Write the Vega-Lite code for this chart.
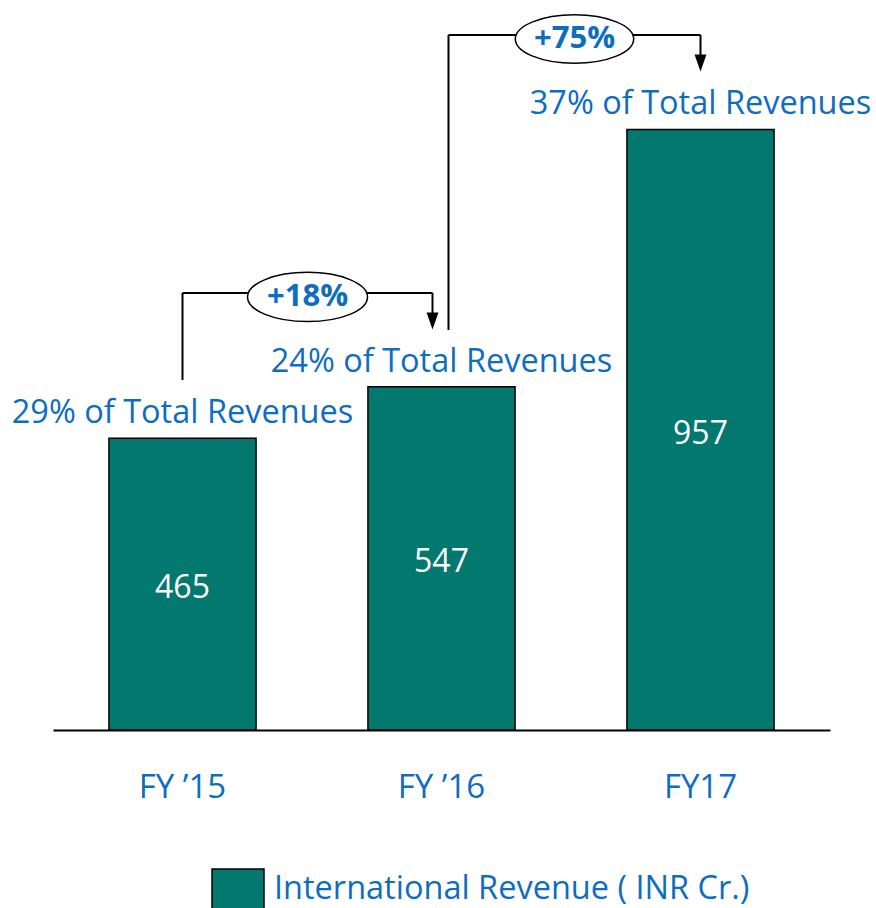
{
  "$schema": "https://vega.github.io/schema/vega-lite/v6.json",
  "width": 777,
  "height": 728,
  "autosize": {"type": "none"},
  "padding": {"left": 53, "top": 2, "right": 46, "bottom": 178},
  "background": "white",
  "config": {"view": {"stroke": null}, "font": "Open Sans"},
  "datasets": {
    "bars": [
      {"fy": "FY ’15", "revenue": 465, "share": "29% of Total Revenues", "series": "International Revenue ( INR Cr.)"},
      {"fy": "FY ’16", "revenue": 547, "share": "24% of Total Revenues", "series": "International Revenue ( INR Cr.)"},
      {"fy": "FY17", "revenue": 957, "share": "37% of Total Revenues", "series": "International Revenue ( INR Cr.)"}
    ],
    "segments": [
      {"seg": "a", "from": "FY ’15", "to": "FY ’15", "y": 557.7, "y2": 696.3},
      {"seg": "b", "from": "FY ’15", "to": "FY ’16", "y": 696.3, "y2": 696.3},
      {"seg": "c", "from": "FY ’16", "to": "FY ’16", "y": 696.3, "y2": 664.4},
      {"seg": "d", "from": "FY ’16", "to": "FY ’16", "y": 637.4, "y2": 1107.4},
      {"seg": "e", "from": "FY ’16", "to": "FY17", "y": 1107.4, "y2": 1107.4},
      {"seg": "f", "from": "FY17", "to": "FY17", "y": 1107.4, "y2": 1075.5}
    ],
    "arrows": [
      {"id": "g1", "fy": "FY ’16", "y": 651.7},
      {"id": "g2", "fy": "FY17", "y": 1062.8}
    ],
    "growth": [
      {"id": "g1", "fy": "FY ’15", "y": 690, "label": "+18%"},
      {"id": "g2", "fy": "FY ’16", "y": 1101, "label": "+75%"}
    ]
  },
  "encoding": {
    "x": {
      "field": "fy",
      "type": "nominal",
      "sort": null,
      "scale": {"domain": ["FY ’15", "FY ’16", "FY17"], "paddingInner": 0.432, "paddingOuter": 0.216},
      "axis": {
        "title": null,
        "ticks": false,
        "domainColor": "black",
        "domainWidth": 2,
        "labelAngle": 0,
        "labelFontSize": 33,
        "labelColor": "#0E6DBF",
        "labelPadding": 41,
        "labelFont": "Open Sans"
      }
    }
  },
  "layer": [
    {
      "data": {"name": "bars"},
      "mark": {"type": "bar", "stroke": "black", "strokeWidth": 1.5},
      "encoding": {
        "y": {"field": "revenue", "type": "quantitative", "scale": {"domain": [0, 1160], "nice": false, "zero": true}, "axis": null},
        "color": {
          "field": "series",
          "type": "nominal",
          "scale": {"range": ["#02786E"]},
          "legend": {
            "title": null,
            "orient": "none",
            "legendX": 164,
            "legendY": 866,
            "symbolType": "M-1.3,-1H1.3V1H-1.3Z",
            "symbolSize": 1600,
            "symbolStrokeColor": "black",
            "symbolStrokeWidth": 1.5,
            "symbolOpacity": 1,
            "labelFontSize": 32.5,
            "labelColor": "#0E6DBF",
            "labelFont": "Open Sans",
            "labelOffset": 15,
            "labelLimit": 700
          }
        }
      }
    },
    {
      "data": {"name": "bars"},
      "mark": {"type": "text", "fontSize": 32, "color": "white", "baseline": "middle", "dy": 4},
      "encoding": {
        "y": {"field": "revenue", "type": "quantitative", "scale": {"domain": [0, 2320], "nice": false, "zero": true}, "axis": null},
        "text": {"field": "revenue", "type": "quantitative"}
      }
    },
    {
      "data": {"name": "bars"},
      "mark": {"type": "text", "fontSize": 32.5, "color": "#0E6DBF", "baseline": "alphabetic", "dy": -15},
      "encoding": {
        "y": {"field": "revenue", "type": "quantitative", "scale": {"domain": [0, 1160], "nice": false, "zero": true}, "axis": null},
        "text": {"field": "share", "type": "nominal"}
      }
    },
    {
      "data": {"name": "segments"},
      "transform": [{"filter": "datum.seg === 'a' || datum.seg === 'f'"}],
      "mark": {"type": "rule", "color": "black", "strokeWidth": 2},
      "encoding": {
        "x": {"field": "from", "type": "nominal"},
        "x2": {"field": "to"},
        "y": {"field": "y", "type": "quantitative", "scale": {"domain": [0, 1160], "nice": false, "zero": true}, "axis": null},
        "y2": {"field": "y2"}
      }
    },
    {
      "data": {"name": "segments"},
      "transform": [{"filter": "datum.seg === 'b'"}],
      "mark": {"type": "rule", "color": "black", "strokeWidth": 2, "x2Offset": -9},
      "encoding": {
        "x": {"field": "from", "type": "nominal"},
        "x2": {"field": "to"},
        "y": {"field": "y", "type": "quantitative", "scale": {"domain": [0, 1160], "nice": false, "zero": true}, "axis": null},
        "y2": {"field": "y2"}
      }
    },
    {
      "data": {"name": "segments"},
      "transform": [{"filter": "datum.seg === 'c'"}],
      "mark": {"type": "rule", "color": "black", "strokeWidth": 2, "xOffset": -9, "x2Offset": -9},
      "encoding": {
        "x": {"field": "from", "type": "nominal"},
        "x2": {"field": "to"},
        "y": {"field": "y", "type": "quantitative", "scale": {"domain": [0, 1160], "nice": false, "zero": true}, "axis": null},
        "y2": {"field": "y2"}
      }
    },
    {
      "data": {"name": "segments"},
      "transform": [{"filter": "datum.seg === 'd'"}],
      "mark": {"type": "rule", "color": "black", "strokeWidth": 2, "xOffset": 7, "x2Offset": 7},
      "encoding": {
        "x": {"field": "from", "type": "nominal"},
        "x2": {"field": "to"},
        "y": {"field": "y", "type": "quantitative", "scale": {"domain": [0, 1160], "nice": false, "zero": true}, "axis": null},
        "y2": {"field": "y2"}
      }
    },
    {
      "data": {"name": "segments"},
      "transform": [{"filter": "datum.seg === 'e'"}],
      "mark": {"type": "rule", "color": "black", "strokeWidth": 2, "xOffset": 7},
      "encoding": {
        "x": {"field": "from", "type": "nominal"},
        "x2": {"field": "to"},
        "y": {"field": "y", "type": "quantitative", "scale": {"domain": [0, 1160], "nice": false, "zero": true}, "axis": null},
        "y2": {"field": "y2"}
      }
    },
    {
      "data": {"name": "arrows"},
      "transform": [{"filter": "datum.id === 'g1'"}],
      "mark": {"type": "point", "shape": "M-0.7,-1L0.7,-1L0,1Z", "size": 289, "filled": true, "color": "black", "opacity": 1, "xOffset": -9},
      "encoding": {"y": {"field": "y", "type": "quantitative", "scale": {"domain": [0, 1160], "nice": false, "zero": true}, "axis": null}}
    },
    {
      "data": {"name": "arrows"},
      "transform": [{"filter": "datum.id === 'g2'"}],
      "mark": {"type": "point", "shape": "M-0.7,-1L0.7,-1L0,1Z", "size": 289, "filled": true, "color": "black", "opacity": 1},
      "encoding": {"y": {"field": "y", "type": "quantitative", "scale": {"domain": [0, 1160], "nice": false, "zero": true}, "axis": null}}
    },
    {
      "data": {"name": "growth"},
      "transform": [{"filter": "datum.id === 'g1'"}],
      "mark": {"type": "point", "shape": "M-1,0A1,0.41 0 1,0 1,0A1,0.41 0 1,0 -1,0Z", "size": 14400, "filled": true, "fill": "white", "stroke": "black", "strokeWidth": 1.5, "opacity": 1, "xOffset": 125},
      "encoding": {"y": {"field": "y", "type": "quantitative", "scale": {"domain": [0, 1160], "nice": false, "zero": true}, "axis": null}}
    },
    {
      "data": {"name": "growth"},
      "transform": [{"filter": "datum.id === 'g2'"}],
      "mark": {"type": "point", "shape": "M-1,0A1,0.41 0 1,0 1,0A1,0.41 0 1,0 -1,0Z", "size": 14000, "filled": true, "fill": "white", "stroke": "black", "strokeWidth": 1.5, "opacity": 1, "xOffset": 133},
      "encoding": {"y": {"field": "y", "type": "quantitative", "scale": {"domain": [0, 1160], "nice": false, "zero": true}, "axis": null}}
    },
    {
      "data": {"name": "growth"},
      "transform": [{"filter": "datum.id === 'g1'"}],
      "mark": {"type": "text", "fontSize": 31, "fontWeight": "bold", "color": "#0E6DBF", "baseline": "middle", "xOffset": 125},
      "encoding": {"y": {"field": "y", "type": "quantitative", "scale": {"domain": [0, 1160], "nice": false, "zero": true}, "axis": null}, "text": {"field": "label"}}
    },
    {
      "data": {"name": "growth"},
      "transform": [{"filter": "datum.id === 'g2'"}],
      "mark": {"type": "text", "fontSize": 31, "fontWeight": "bold", "color": "#0E6DBF", "baseline": "middle", "xOffset": 133},
      "encoding": {"y": {"field": "y", "type": "quantitative", "scale": {"domain": [0, 1160], "nice": false, "zero": true}, "axis": null}, "text": {"field": "label"}}
    }
  ],
  "resolve": {"scale": {"y": "independent"}}
}
